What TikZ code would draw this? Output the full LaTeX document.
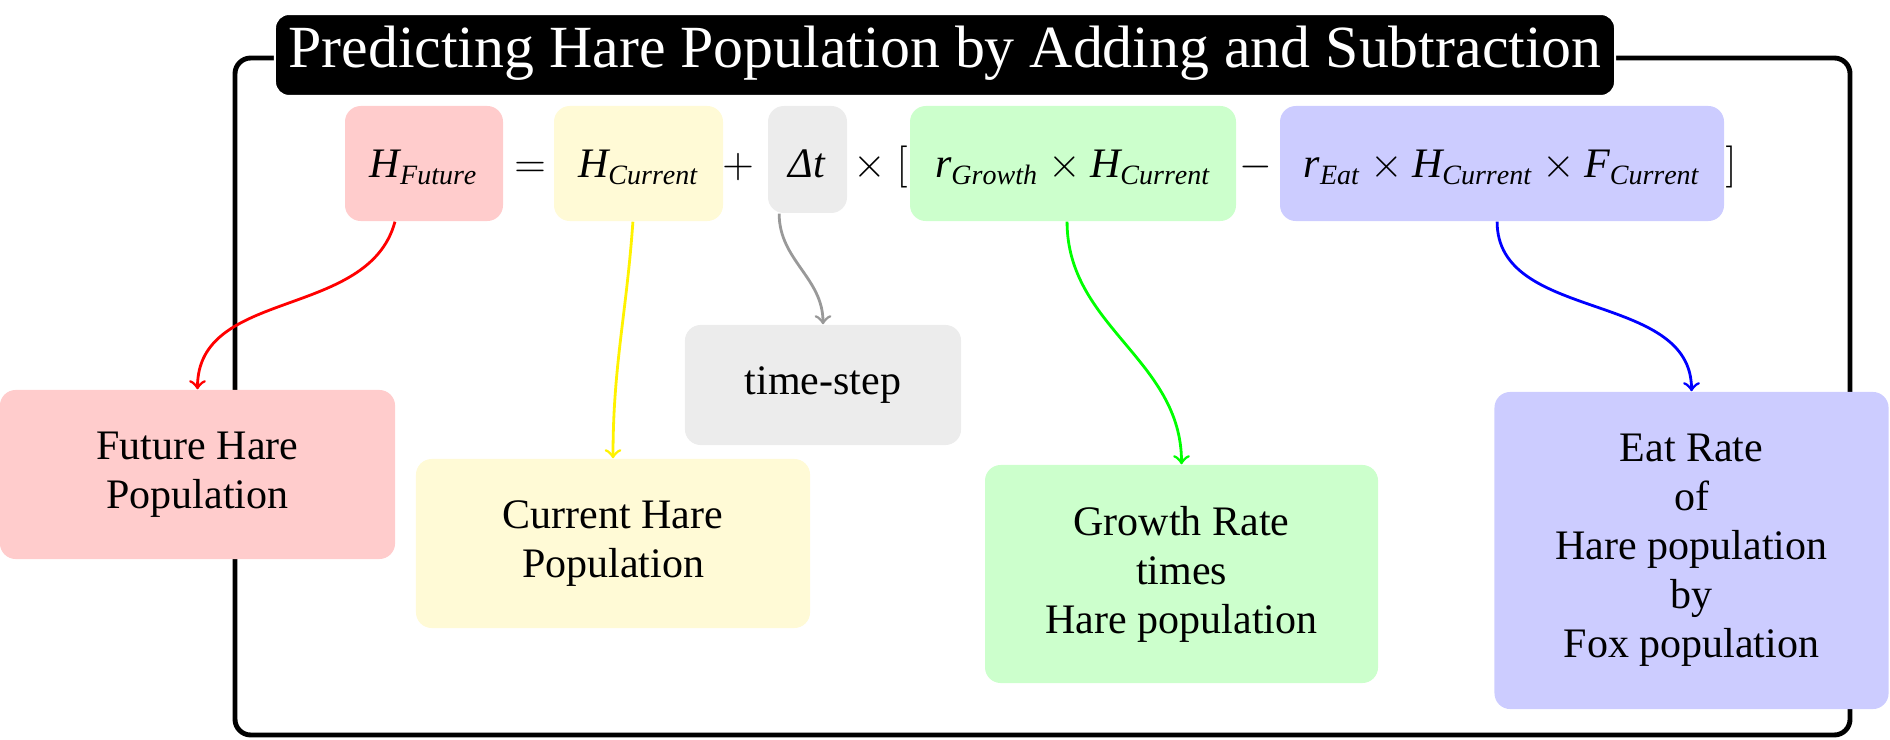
\documentclass[tikz,border=0pt]{standalone}
\usepackage{fontspec}
\setmainfont{Liberation Serif}
\usetikzlibrary{arrows}
\definecolor{lemon}{RGB}{255,250,214}
\begin{document}
\begin{tikzpicture}[x=0.285714pt,y=0.285714pt,
  body/.style={font=\fontsize{12}{14}\selectfont},
  lowbox/.style={body,rounded corners=4.5pt,inner sep=0pt,align=center},
  eqbox/.style={body,rounded corners=4.5pt,inner sep=0pt,anchor=base,text height=20.57pt,text depth=12.29pt,minimum height=32.86pt},
  eqop/.style={body,inner sep=0pt,anchor=base},
  link/.style={thick,->,>=to}
]
\useasboundingbox (0,0) rectangle (1890,-740);
% frame
\draw[line width=1.4pt,rounded corners=4.5pt] (235,-58) rectangle (1850,-735);
% title
\node[fill=black,draw=white,line width=0.6pt,text=white,rounded corners=4pt,inner sep=0pt,anchor=base,
      text height=15.43pt,text depth=8pt,minimum width=382.9pt,font=\fontsize{17.1}{20}\selectfont]
      (title) at (945,-68) {Predicting Hare Population by Adding and Subtraction};
% operators
\node[eqop] (eq) at (530,-178) {$=$};
\node[eqop] (plus) at (738,-178) {$+$};
\node[eqop] (times) at (870,-178) {$\times$};
\node[eqop] (lb) at (902,-178) {$[$};
\node[eqop] (minus) at (1256,-178) {$-$};
\node[eqop] (rb) at (1731,-178) {$]$};
% equation boxes
\node[eqbox,fill=red!20,minimum width=45.14pt] (HF) at (424,-178) {$\mathit{H}_{\mathit{Future}}$};
\node[eqbox,fill=lemon,minimum width=48.29pt] (HC) at (638.5,-178) {$\mathit{H}_{\mathit{Current}}$};
\node[eqbox,fill=gray!15,minimum width=22.57pt,text depth=10pt,minimum height=30.57pt] (DT) at (807.5,-178) {\textit{Δt}};
\node[eqbox,fill=green!20,minimum width=93.14pt] (GR) at (1073,-178) {$\mathit{r}_{\mathit{Growth}}\times\mathit{H}_{\mathit{Current}}$};
\node[eqbox,fill=blue!20,minimum width=126.86pt] (EA) at (1502,-178) {$\mathit{r}_{\mathit{Eat}}\times\mathit{H}_{\mathit{Current}}\times\mathit{F}_{\mathit{Current}}$};
% lower boxes
\node[lowbox,fill=red!20,minimum width=112.9pt,minimum height=48.3pt] (fh) at (197.5,-474.5) {Future Hare\\Population};
\node[lowbox,fill=lemon,minimum width=112.6pt,minimum height=48.3pt] (ch) at (613,-543.5) {Current Hare\\Population};
\node[lowbox,fill=gray!15,minimum width=78.9pt,minimum height=34.3pt] (ts) at (823,-385) {time-step};
\node[lowbox,fill=green!20,minimum width=112.3pt,minimum height=62.3pt] (gr) at (1181.5,-574) {Growth Rate\\times\\Hare population};
\node[lowbox,fill=blue!20,minimum width=112.6pt,minimum height=90.6pt] (ea) at (1691.5,-550.5) {Eat Rate\\of\\Hare population\\by\\Fox population};
% connectors
\draw[link,red] ([xshift=-8.3pt]HF.south) to[out=-105,in=90] (fh.north);
\draw[link,yellow] ([xshift=-1.6pt]HC.south) to[out=-94,in=90] (ch.north);
\draw[link,gray!80] ([xshift=-8.1pt]DT.south) to[out=-90,in=90] (ts.north);
\draw[link,green] ([xshift=-1.7pt]GR.south) to[out=-90,in=90] (gr.north);
\draw[link,blue] ([xshift=-1.4pt]EA.south) to[out=-90,in=90] (ea.north);
\end{tikzpicture}
\end{document}
